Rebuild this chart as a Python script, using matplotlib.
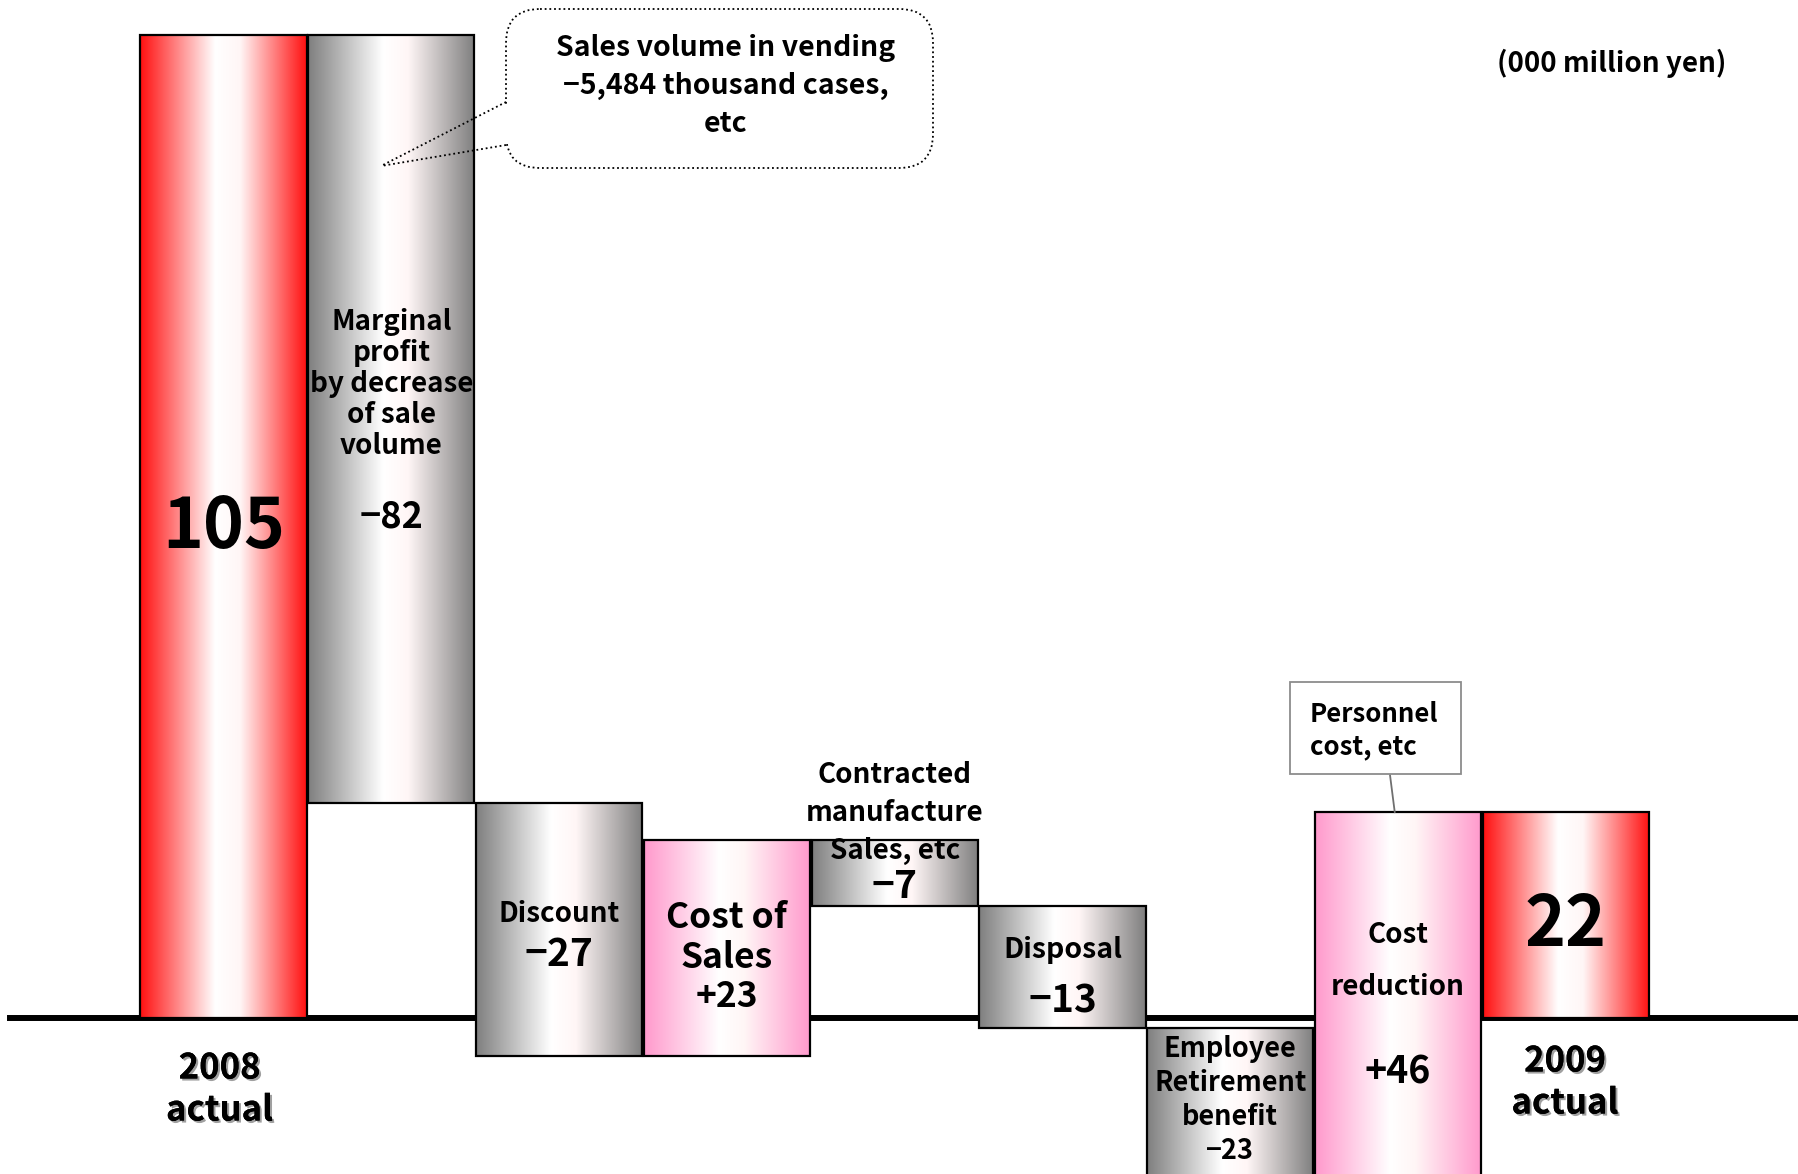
import matplotlib
matplotlib.use("Agg")
import matplotlib.pyplot as plt
import numpy as np
from matplotlib.colors import LinearSegmentedColormap
from matplotlib.patches import Rectangle, FancyBboxPatch
import matplotlib.patheffects as pe

plt.rcParams['font.family'] = ['Noto Sans CJK JP', 'DejaVu Sans']
plt.rcParams['font.weight'] = 'bold'

# Operating profit bridge, 2008 actual -> 2009 actual (000 million yen)
steps = ["2008 actual", "Marginal profit", "Discount", "Cost of Sales",
         "Contracted manufacture", "Disposal", "Employee Retirement benefit",
         "Cost reduction", "2009 actual"]
values = [105, -82, -27, 23, -7, -13, -23, 46, 22]
kinds = ["total", "delta", "delta", "delta", "delta", "delta", "delta", "delta", "total"]

W, H = 1798, 1174
fig = plt.figure(figsize=(W / 100, H / 100), dpi=100)
ax = fig.add_axes([0, 0, 1, 1])
ax.set_axis_off()

def gradient_cmap(edge):
    return LinearSegmentedColormap.from_list(
        "g", [(0.0, edge), (0.45, "#ffffff"), (0.6, "#fff6f6"), (1.0, edge)])

cmaps = {
    "total": gradient_cmap("#ff1010"),
    "neg": gradient_cmap("#7f7f7f"),
    "pos": gradient_cmap("#ff99cc"),
}
grad = np.linspace(0, 1, 256).reshape(1, -1)

# waterfall geometry
level = 0.0
bars = []
for i, (v, k) in enumerate(zip(values, kinds)):
    if k == "total":
        lo, hi = 0.0, v
        level = v
        style = "total"
    else:
        lo, hi = sorted([level, level + v])
        level += v
        style = "pos" if v > 0 else "neg"
    bars.append((i, lo, hi, style))

bw = 0.99
for i, lo, hi, style in bars:
    ax.imshow(grad, extent=[i - bw / 2, i + bw / 2, lo, hi], aspect="auto",
              cmap=cmaps[style], interpolation="bilinear", zorder=2)
    ax.add_patch(Rectangle((i - bw / 2, lo), bw, hi - lo, fill=False,
                           edgecolor="black", linewidth=1.6, zorder=3))

x0, x1 = -1.332, 9.383
ax.set_xlim(x0, x1)
ax.set_ylim(-16.6, 108.7)
ax.axhline(0, xmin=10 / W, xmax=1.0, color="black", linewidth=4.3, zorder=1)

# overlay in pixel coordinates for labels and callouts
ov = fig.add_axes([0, 0, 1, 1])
ov.set_xlim(0, W)
ov.set_ylim(H, 0)
ov.set_axis_off()
ov.patch.set_alpha(0)

def px(i):
    return (i - x0) / (x1 - x0) * W

def sgn(v):
    return ("+" if v > 0 else "\u2212") + str(abs(v))

T = dict(ha="center", va="center", color="black", fontweight="bold")

ov.text(px(0), 528, str(values[0]), fontsize=50, **T)
ov.text(px(1), 384, "Marginal\nprofit\nby decrease\nof sale\nvolume", fontsize=20,
        linespacing=1.13, **T)
ov.text(px(1), 517, sgn(values[1]), fontsize=26, **T)
ov.text(px(2), 914, "Discount", fontsize=20, **T)
ov.text(px(2), 955, sgn(values[2]), fontsize=28, **T)
ov.text(px(3), 957, "Cost of\nSales\n" + sgn(values[3]), fontsize=25.5, linespacing=1.17, **T)
ov.text(px(4), 813, "Contracted\nmanufacture\nSales, etc", fontsize=20, linespacing=1.45, **T)
ov.text(px(4), 887, sgn(values[4]), fontsize=28, **T)
ov.text(px(5), 950, "Disposal", fontsize=20.5, **T)
ov.text(px(5), 1001, sgn(values[5]), fontsize=28, **T)
ov.text(px(6), 1100, "Employee\nRetirement\nbenefit\n" + sgn(values[6]), fontsize=19.5,
        linespacing=1.27, **T)
ov.text(px(7), 961, "Cost\n\nreduction", fontsize=20, linespacing=0.9, **T)
ov.text(px(7), 1072, sgn(values[7]), fontsize=27, **T)
ov.text(px(8), 926, str(values[8]), fontsize=50, **T)

shadow = [pe.withSimplePatchShadow(offset=(1.5, -1.5), shadow_rgbFace="#888888", alpha=0.8),
          pe.Normal()]
ov.text(px(0) - 4, 1089, "2008\nactual", fontsize=25, linespacing=1.25,
        path_effects=shadow, **T)
ov.text(px(8) - 1, 1082, "2009\nactual", fontsize=25, linespacing=1.25,
        path_effects=shadow, **T)

ov.text(1612, 63, "(000 million yen)", fontsize=20, **T)

# speech bubble with a dotted outline
dot = (0, (1, 1.6))
bubble = FancyBboxPatch((506, 9), 427, 159, boxstyle="round,pad=0,rounding_size=34",
                        facecolor="white", edgecolor="black", linewidth=1.3,
                        linestyle=dot, zorder=4)
ov.add_patch(bubble)
ov.add_patch(Rectangle((503, 104), 8, 40, facecolor="white", edgecolor="none", zorder=5))
ov.plot([506, 381], [102, 166], color="black", linewidth=1.3, linestyle=dot, zorder=5)
ov.plot([506, 381], [145, 166], color="black", linewidth=1.3, linestyle=dot, zorder=5)
ov.text(726, 86, "Sales volume in vending\n\u22125,484 thousand cases,\netc", fontsize=20.5,
        linespacing=1.45, zorder=6, **T)

# note box for cost reduction
ov.add_patch(Rectangle((1290, 682), 171, 92, facecolor="white", edgecolor="#8c8c8c",
                       linewidth=1.3, zorder=4))
ov.text(1310, 731, "Personnel\ncost, etc", fontsize=18.5, ha="left", va="center",
        fontweight="bold", linespacing=1.25, zorder=6)
top7 = bars[7][2]
ax.annotate("", xy=(7 - 0.02, top7), xycoords="data",
            xytext=(1390, H - 775), textcoords="figure pixels",
            arrowprops=dict(arrowstyle="-", color="#707070", linewidth=1.3,
                            shrinkA=0, shrinkB=0), zorder=5)

fig.savefig("out.png", dpi=100)
